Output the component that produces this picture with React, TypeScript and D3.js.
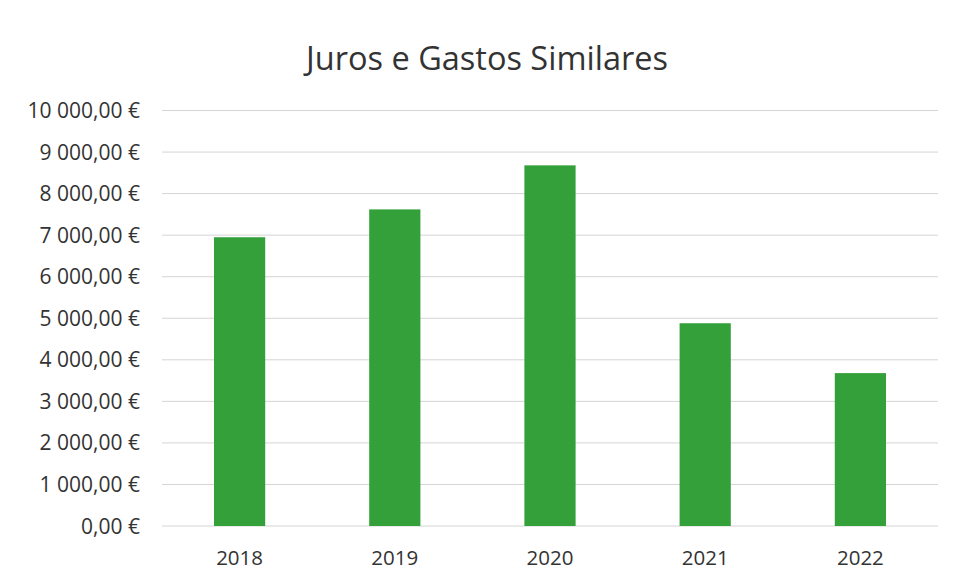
import * as d3 from "d3";
import React from "react";

const years = ["2018", "2019", "2020", "2021", "2022"];
const values = [6950, 7620, 8680, 4880, 3680];
const yTicks = [0, 1000, 2000, 3000, 4000, 5000, 6000, 7000, 8000, 9000, 10000];
const title = "Juros e Gastos Similares";

const W = 956;
const H = 583;
const FONT = "'Open Sans', sans-serif";

const fmt = (v: number) => {
  const [int, dec] = v.toFixed(2).split(".");
  const grouped = int.replace(/\B(?=(\d{3})+(?!\d))/g, " ");
  return `${grouped},${dec} €`;
};

const App: React.FC = () => {
  const x = d3.scaleBand<string>().domain(years).range([162, 938]).paddingInner(0.67).paddingOuter(0.335);
  const y = d3.scaleLinear().domain([0, 10000]).range([526, 110.5]);

  return (
    <svg
      width={W}
      height={H}
      style={{ position: "absolute", left: 0, top: 0, background: "#fff" }}
    >
      <text x={487} y={70} textAnchor="middle" fontFamily={FONT} fontSize={32.5} fill="#333">
        {title}
      </text>

      <g>
        {yTicks.map((t) => (
          <g key={t}>
            <line x1={162} x2={938} y1={y(t)} y2={y(t)} stroke="#d4d4d4" strokeWidth={1} />
            <text
              x={140}
              y={y(t)}
              dy="0.36em"
              textAnchor="end"
              fontFamily={FONT}
              fontSize={21}
              fill="#333"
            >
              {fmt(t)}
            </text>
          </g>
        ))}
      </g>

      <g>
        {years.map((yr, i) => (
          <rect
            key={yr}
            x={x(yr)}
            y={y(values[i])}
            width={x.bandwidth()}
            height={y(0) - y(values[i])}
            fill="#34a03a"
          />
        ))}
      </g>

      <g>
        {years.map((yr) => (
          <text
            key={yr}
            x={(x(yr) ?? 0) + x.bandwidth() / 2}
            y={565}
            textAnchor="middle"
            fontFamily={FONT}
            fontSize={20.5}
            fill="#333"
          >
            {yr}
          </text>
        ))}
      </g>
    </svg>
  );
};

export default App;
